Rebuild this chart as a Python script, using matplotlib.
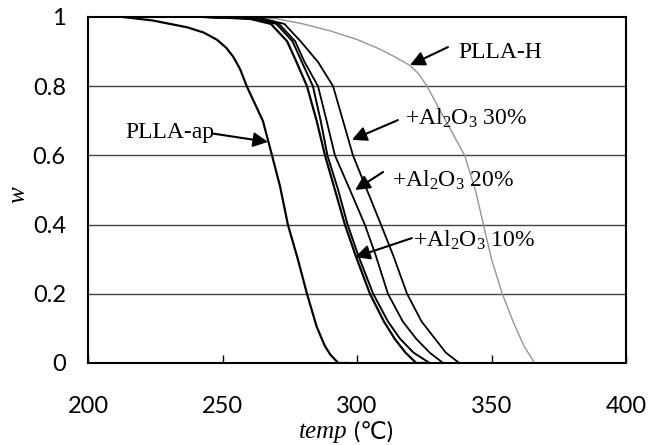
import matplotlib
matplotlib.use('Agg')
import matplotlib.pyplot as plt

# TGA curves (temp in C, w = weight fraction)
temp_ap = [213, 224, 237, 243, 248, 251.5, 254, 256.5, 259, 262, 265, 268.4, 271.4, 274.3, 278, 281.4, 285, 288, 290, 293, 297]
w_ap = [1.0, 0.99, 0.97, 0.955, 0.934, 0.91, 0.885, 0.85, 0.80, 0.75, 0.70, 0.60, 0.51, 0.40, 0.30, 0.20, 0.105, 0.05, 0.025, 0.0, 0.0]

w_mid = [1.0, 0.995, 0.98, 0.93, 0.87, 0.80, 0.70, 0.60, 0.50, 0.40, 0.31, 0.20, 0.12, 0.07, 0.03, 0.0, 0.0]
temp_10 = [243, 260, 268, 274, 277.5, 281.4, 285, 288.1, 291.8, 295.5, 299.5, 304.8, 310, 314, 318, 322, 326]
temp_x = [243, 262, 270, 276, 279.5, 283.6, 286.5, 289, 293, 296.5, 300.5, 306, 311.5, 316, 321, 327, 330]
temp_20 = [243, 263, 271, 277, 280.5, 285.5, 288.7, 291.8, 297.4, 302.9, 307, 311.5, 317, 322, 327, 332, 335]
temp_30 = [243, 265, 273, 279, 285.5, 291.1, 294.8, 298.5, 303.7, 308.9, 313.5, 318.6, 324, 329, 333, 338, 341]

temp_h = [243, 270, 280, 290, 300, 308.5, 314, 319.7, 323, 326, 333, 340, 344, 347, 350, 354, 358, 362, 366, 370]
w_h = [1.0, 0.995, 0.98, 0.96, 0.935, 0.907, 0.885, 0.86, 0.835, 0.80, 0.70, 0.60, 0.50, 0.40, 0.30, 0.20, 0.12, 0.05, 0.0, 0.0]

x_ticks = [200, 250, 300, 350, 400]
y_ticks = [0, 0.2, 0.4, 0.6, 0.8, 1]
y_ticklabels = ['0', '0.2', '0.4', '0.6', '0.8', '1']

# label text, text anchor, arrow tail, arrow tip
labels = [
	('PLLA-ap', (213.8, 0.665), (246.5, 0.663), (266.9, 0.639)),
	('PLLA-H', (337.5, 0.896), (333.8, 0.913), (319.7, 0.861)),
	('+Al$_2$O$_3$ 30%', (317.8, 0.708), (315.2, 0.702), (298.1, 0.645)),
	('+Al$_2$O$_3$ 20%', (313.0, 0.529), (309.7, 0.552), (299.3, 0.500)),
	('+Al$_2$O$_3$ 10%', (320.8, 0.355), (320.4, 0.361), (299.3, 0.306)),
]

plt.rcParams['mathtext.fontset'] = 'custom'
plt.rcParams['mathtext.rm'] = 'Liberation Serif'
plt.rcParams['mathtext.it'] = 'Liberation Serif:italic'

fig = plt.figure(figsize=(6.49, 4.45), dpi=100)
ax = fig.add_axes([0.1356, 0.1843, 0.829, 0.7775])

for y in [0.2, 0.4, 0.6, 0.8]:
	ax.axhline(y, color='#444444', lw=1.0, zorder=1)

ax.plot(temp_h, w_h, color='#959595', lw=1.0, zorder=2)
ax.plot(temp_ap, w_ap, color='black', lw=1.6, zorder=3)
ax.plot(temp_10, w_mid, color='black', lw=1.6, zorder=3)
ax.plot(temp_x, w_mid, color='black', lw=1.4, zorder=3)
ax.plot(temp_20, w_mid, color='black', lw=1.3, zorder=3)
ax.plot(temp_30, w_mid, color='black', lw=1.3, zorder=3)

for text, pos, tail, tip in labels:
	ax.text(pos[0], pos[1], text, family='Liberation Serif', fontsize=17,
		ha='left', va='center', zorder=5)
	ax.annotate('', xy=tip, xytext=tail,
		arrowprops=dict(arrowstyle='-|>', color='black', lw=1.5,
			mutation_scale=22, shrinkA=0, shrinkB=0), zorder=5)

ax.set_xlim(200, 400)
ax.set_ylim(0, 1)
ax.set_xticks(x_ticks)
ax.set_yticks(y_ticks)
ax.set_yticklabels(y_ticklabels)
ax.tick_params(axis='x', direction='in', length=6, width=1, pad=24, labelsize=17)
ax.tick_params(axis='y', length=0, pad=16, labelsize=17)
for lab in ax.get_xticklabels() + ax.get_yticklabels():
	lab.set_family('Lato')
for s in ax.spines.values():
	s.set_linewidth(1.5)

fig.text(18 / 649, 1 - 195 / 445, 'w', fontsize=18, rotation=90, style='italic',
	family='Liberation Serif', ha='center', va='center')
fig.text(348 / 649, 1 - 432 / 445, 'temp', fontsize=18, style='italic',
	family='Liberation Serif', ha='right', va='center')
fig.text(354 / 649, 1 - 432 / 445, '(\u2103)', fontsize=17,
	family=['Lato', 'DejaVu Sans'], ha='left', va='center')

fig.savefig('out.png', dpi=100)
